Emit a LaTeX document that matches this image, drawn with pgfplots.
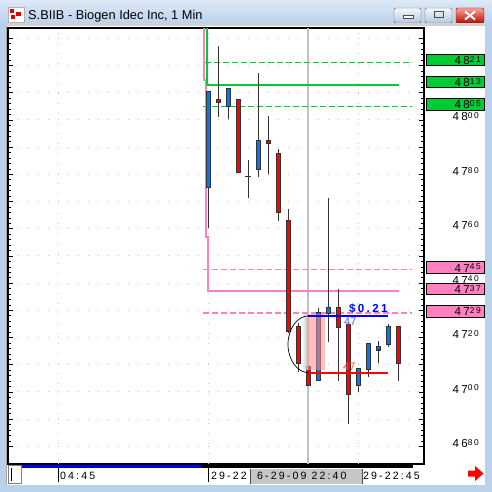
\documentclass[border=0pt]{standalone}
\usepackage{pgfplots}
\usepackage{pgfplotstable}
\pgfplotsset{compat=1.18}
\usepackage{fontspec}
\setmainfont{Liberation Sans}
\newfontfamily\spaced[LetterSpace=20]{Liberation Sans}
\definecolor{winblue}{RGB}{185,209,234}
\definecolor{titletop}{RGB}{221,233,246}
\definecolor{titlebot}{RGB}{188,210,236}
\definecolor{pinkl}{RGB}{255,128,192}
\definecolor{greenl}{RGB}{0,204,51}
\definecolor{candleblue}{RGB}{10,116,232}
\definecolor{wickc}{RGB}{51,51,51}
\definecolor{cursorg}{RGB}{192,192,192}
\newcommand\pl[2]{{\spaced\fontsize{11.6bp}{12bp}\selectfont #1}\raisebox{2.3bp}{\spaced\fontsize{8.4bp}{9bp}\selectfont #2}}
\pgfplotsset{ebar/.style={draw=none, mark=none, forget plot}}

\pgfplotstableread{
x o h l c
1 4775.2 4810.1 4760.3 4810.1
3 4805.1 4811.5 4800.2 4811.2
6 4782.1 4817.4 4779.1 4792.2
12 4704.4 4730.7 4704.4 4728.9
13 4728.9 4771.2 4718.5 4730.7
16 4702.5 4708.3 4700.0 4708.3
17 4708.3 4717.6 4705.4 4717.6
18 4715.6 4718.8 4710.5 4716.4
19 4717.5 4725.0 4716.4 4724.0
}\upc

\pgfplotstableread{
x o h l c
2 4807.5 4827.2 4801.2 4806.5
4 4807.2 4807.5 4781.0 4781.0
7 4792.1 4801.4 4780.0 4791.4
8 4787.4 4789.3 4763.0 4766.0
9 4763.0 4767.1 4721.7 4722.5
10 4724.0 4725.4 4707.4 4710.5
11 4709.3 4709.3 4702.5 4702.5
14 4730.7 4737.7 4704.1 4723.7
15 4724.6 4724.6 4688.2 4699.2
20 4724.0 4724.0 4704.1 4710.5
}\downc

\begin{document}
\begin{tikzpicture}
\begin{scope}[x=1bp,y=-1bp]
\useasboundingbox (0,0) rectangle (492,492);
\fill[winblue] (0,0) rectangle (492,492);
\shade[top color=titletop, bottom color=titlebot] (0,0) rectangle (492,23);
% icon
\fill[white] (8,7) rectangle (24,22);
\draw[gray!60] (8,7) rectangle (24,22);
\fill[red!85!black] (10,9) rectangle (14,13);
\fill[red!85!black] (16,12) rectangle (21,16);
\fill[red!85!black] (11,15) rectangle (15,19);
\node[anchor=base west, inner sep=0, font=\fontsize{12.8bp}{14bp}\selectfont] at (28,19.5) {S.BIIB - Biogen Idec Inc, 1 Min};
% buttons
\shade[top color=white!85!winblue, bottom color=winblue!90!gray, rounded corners=2bp, draw=gray!70!black] (394,8) rectangle (421,23);
\draw[black!70, fill=white] (403,15) rectangle (413,18);
\shade[top color=white!85!winblue, bottom color=winblue!90!gray, rounded corners=2bp, draw=gray!70!black] (425,8) rectangle (452,23);
\draw[black!70, line width=1bp] (434,12) rectangle (443,18);
\shade[top color=red!35!white!90!orange, bottom color=red!70!black!90!orange, rounded corners=2bp, draw=red!40!black] (456,8) rectangle (484,23);
\draw[white, line width=2bp] (465,11.5) -- (475,19.5) (465,19.5) -- (475,11.5);
% inner white area
\fill[white] (6,23) rectangle (485,485);
\draw[gray!70] (6.5,485) -- (6.5,23.5) -- (485,23.5);
\fill[gray!35] (6,23) rectangle (485,26);
\end{scope}

\begin{axis}[
  at={(8bp,-464bp)}, anchor=south west, scale only axis,
  width=416bp, height=436bp,
  xmin=-19, xmax=22.6, ymin=4673.5, ymax=4833.8,
  axis line style={black, line width=1.5bp},
  xtick=\empty,
  extra x ticks={-14,1,16}, extra x tick labels={},
  extra x tick style={grid=major, major tick length=0pt},
  ytick={4680,4690,...,4830},
  yticklabels={\pl{46}{80},,\pl{47}{00},,\pl{47}{20},,\pl{47}{40},,\pl{47}{60},,\pl{47}{80},,\pl{48}{00},,,},
  minor y tick num=4,
  ymajorgrids,
  major grid style={gray!45, line width=1bp, dash pattern=on 1bp off 9bp},
  tick pos=both, yticklabel pos=right, tick align=inside,
  major tick length=5bp, minor tick length=3bp,
  tick style={black, line width=0.6bp},
  yticklabel style={anchor=east, xshift=55bp, yshift=3bp, inner sep=0pt},
]
% cursor line
\addplot[cursorg, line width=1.5bp] coordinates {(11,4673.5) (11,4833.8)};
% dashed levels
\addplot[greenl, line width=1.2bp, dash pattern=on 6bp off 3bp] coordinates {(0.7,4821) (21.4,4821)};
\addplot[greenl, line width=1.2bp, dash pattern=on 6bp off 3bp] coordinates {(0.5,4805) (21.4,4805)};
\addplot[pinkl, line width=1.3bp, dash pattern=on 6bp off 3bp] coordinates {(0.5,4745.1) (21.4,4745.1)};
\addplot[pinkl, line width=1.2bp, dash pattern=on 6bp off 3bp] coordinates {(0.5,4729) (21.4,4729)};
% solid step lines
\addplot[pinkl, line width=2bp] coordinates {(0.6,4833.8) (0.6,4814.5) (0.75,4814.5) (0.75,4757) (0.95,4757) (0.95,4737) (20.1,4737)};
\addplot[greenl, line width=2bp] coordinates {(0.9,4833.8) (0.9,4813) (20.1,4813)};
% wicks
\addplot[ebar, error bars/.cd, y dir=plus, y explicit, error mark=none, error bar style={draw=wickc, line width=1bp, solid}] table[x=x, y=l, y error expr=\thisrow{h}-\thisrow{l}] {\upc};
\addplot[ebar, error bars/.cd, y dir=plus, y explicit, error mark=none, error bar style={draw=wickc, line width=1bp, solid}] table[x=x, y=l, y error expr=\thisrow{h}-\thisrow{l}] {\downc};
\addplot[ebar, error bars/.cd, y dir=plus, y explicit, error mark=none, error bar style={draw=wickc, line width=1bp, solid}] coordinates {(5,4771.2) +- (0,14.1)};
\addplot[ebar, error bars/.cd, x dir=both, x fixed=0.28, error mark=none, error bar style={draw=wickc, line width=1bp, solid}] coordinates {(5,4779.3)};
% bodies
\addplot[ebar, error bars/.cd, y dir=plus, y explicit, error mark=none, error bar style={draw=wickc, line width=5bp, solid}] table[x=x, y expr={min(\thisrow{o},\thisrow{c})-0.37}, y error expr={abs(\thisrow{c}-\thisrow{o})+0.74}] {\upc};
\addplot[ebar, error bars/.cd, y dir=plus, y explicit, error mark=none, error bar style={draw=candleblue, line width=3bp, solid}] table[x=x, y expr={min(\thisrow{o},\thisrow{c})}, y error expr={abs(\thisrow{c}-\thisrow{o})}] {\upc};
\addplot[ebar, error bars/.cd, y dir=plus, y explicit, error mark=none, error bar style={draw=wickc, line width=5bp, solid}] table[x=x, y expr={min(\thisrow{o},\thisrow{c})-0.37}, y error expr={abs(\thisrow{c}-\thisrow{o})+0.74}] {\downc};
\addplot[ebar, error bars/.cd, y dir=plus, y explicit, error mark=none, error bar style={draw=red, line width=3bp, solid}] table[x=x, y expr={min(\thisrow{o},\thisrow{c})}, y error expr={abs(\thisrow{c}-\thisrow{o})}] {\downc};
% shaded selection
\shade[left color=white, right color=gray!60, opacity=0.85] (axis cs:10.35,4728.6) rectangle (axis cs:11,4708.1);
\fill[red!45, opacity=0.55] (axis cs:11,4728.6) rectangle (axis cs:12.7,4708.1);
% measure lines
\addplot[blue, line width=2bp] coordinates {(11,4727.9) (19,4727.9)};
\addplot[red, line width=2bp] coordinates {(11,4706.8) (19,4706.8)};
\draw[black, line width=0.7bp] (axis cs:11.1,4728.0) arc[start angle=90, end angle=270, x radius=21bp, y radius=28.5bp];
\node[anchor=base west, inner sep=0, text=blue, font=\spaced\bfseries\fontsize{11.6bp}{12bp}\selectfont] at (axis cs:15.1,4729.1) {\$0.21};
\node[anchor=base west, inner sep=0, text={rgb,255:red,90;green,90;blue,255}, font=\fontsize{11bp}{12bp}\selectfont] at (axis cs:14.6,4724.6) {47};
\node[anchor=base west, inner sep=0, text={rgb,255:red,255;green,80;blue,40}, font=\fontsize{11bp}{12bp}\selectfont] at (axis cs:14.5,4708.0) {47};
\end{axis}

\begin{scope}[x=1bp,y=-1bp]
% price boxes
\foreach \yc/\a/\b/\col in {60.2/48/21/greenl, 82.2/48/13/greenl, 104.3/48/05/greenl, 267.5/47/45/pinkl, 289/47/37/pinkl, 311.3/47/29/pinkl}{
  \node[draw=black, line width=1bp, fill=\col, minimum width=58bp, minimum height=11.5bp, inner sep=0, anchor=west] at (425.5,\yc) {};
  \node[anchor=base east, inner sep=0] at (481,\yc+4.6) {\pl{\a}{\b}};
}
% time axis
\fill[blue!90!black] (10,465) rectangle (202,468);
\fill[black] (202,465) rectangle (413,468);
\draw[gray, fill=white] (8.5,465.5) rectangle (21.5,483);
\draw[black, line width=1bp] (11,468) -- (11,481);
\draw[black, line width=1bp] (58.5,468) -- (58.5,482);
\draw[black, line width=1bp] (208.5,468) -- (208.5,482);
\node[anchor=base west, inner sep=0, font=\spaced\fontsize{10.6bp}{12bp}\selectfont] at (60,479.3) {04:45};
\node[anchor=base west, inner sep=0, font=\spaced\fontsize{10.6bp}{12bp}\selectfont] at (211,479.3) {29-22};
\fill[gray!45] (250,468.5) rectangle (363,484);
\draw[black!70] (250.5,468.5) -- (250.5,484) (362.5,468.5) -- (362.5,484);
\node[anchor=base west, inner sep=0, font=\spaced\fontsize{10.6bp}{12bp}\selectfont] at (257,479.3) {6-29-09 22:40};
\node[anchor=base west, inner sep=0, font=\spaced\fontsize{10.6bp}{12bp}\selectfont] at (363,479.3) {29-22:45};
\fill[red] (468,470.5) -- (475,470.5) -- (475,466) -- (483.5,473.5) -- (475,481) -- (475,476.5) -- (468,476.5) -- cycle;
\end{scope}
\end{tikzpicture}
\end{document}
